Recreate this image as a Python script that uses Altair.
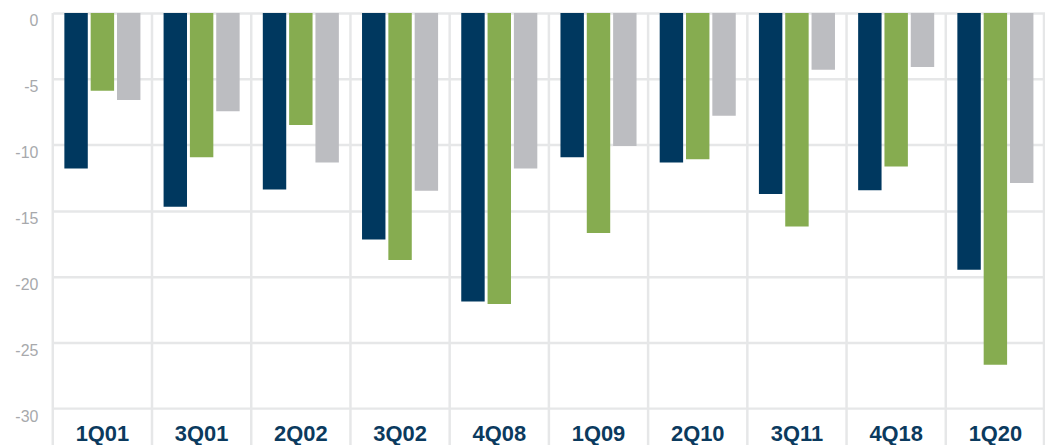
import altair as alt
import pandas as pd

quarters = ["1Q01", "3Q01", "2Q02", "3Q02", "4Q08", "1Q09", "2Q10", "3Q11", "4Q18", "1Q20"]
series_names = ["Series 1", "Series 2", "Series 3"]
series_1 = [-11.8, -14.7, -13.4, -17.2, -21.9, -10.95, -11.35, -13.75, -13.45, -19.5]
series_2 = [-5.9, -10.95, -8.5, -18.75, -22.1, -16.7, -11.1, -16.2, -11.65, -26.7]
series_3 = [-6.6, -7.45, -11.35, -13.5, -11.8, -10.1, -7.8, -4.3, -4.1, -12.9]
colors = ["#00385F", "#86AC50", "#BCBDC1"]
y_ticks = [0, -5, -10, -15, -20, -25, -30]

rows = []
for name, vals in zip(series_names, [series_1, series_2, series_3]):
    for q, v in zip(quarters, vals):
        rows.append({"quarter": q, "series": name, "value": v})
df = pd.DataFrame(rows)

W = 997
H = 397
GRID = "#E6E7E8"

x_scale = alt.Scale(domain=quarters, paddingInner=0, paddingOuter=0)
x_axis = alt.Axis(
    title=None,
    labelAngle=0,
    labelFont="Liberation Sans, Arial, sans-serif",
    labelFontSize=22,
    labelFontWeight="bold",
    labelColor="#0B3A5E",
    labelPadding=16,
    labelOverlap=False,
    labelBound=False,
    ticks=False,
    domain=False,
    grid=False,
)

bars = alt.Chart(df).mark_bar().encode(
    x=alt.X("quarter:N", scale=x_scale, sort=quarters, axis=x_axis),
    xOffset=alt.XOffset(
        "series:N",
        sort=series_names,
        scale=alt.Scale(domain=series_names, paddingInner=0.11, paddingOuter=0.44),
    ),
    y=alt.Y(
        "value:Q",
        scale=alt.Scale(domain=[-30, 0], nice=False, zero=True),
        axis=alt.Axis(
            title=None,
            values=y_ticks,
            grid=True,
            gridColor=GRID,
            gridWidth=2.5,
            ticks=False,
            domain=False,
            labelFont="Liberation Sans, Arial, sans-serif",
            labelFontSize=16,
            labelColor="#A7A9AC",
            labelPadding=15,
            labelBaseline="top",
            labelExpr="'' + datum.value",
        ),
    ),
    color=alt.Color(
        "series:N",
        scale=alt.Scale(domain=series_names, range=colors),
        legend=None,
    ),
)

vgrid = alt.Chart(pd.DataFrame({"quarter": quarters})).mark_rule(
    color=GRID, strokeWidth=2.5
).encode(
    x=alt.X("quarter:N", scale=x_scale, sort=quarters, bandPosition=0, axis=x_axis),
    y=alt.value(0),
    y2=alt.value(H + 60),
)

right_rule = alt.Chart(pd.DataFrame({"quarter": [quarters[-1]]})).mark_rule(
    color=GRID, strokeWidth=2.5
).encode(
    x=alt.value(W - 1),
    y=alt.value(0),
    y2=alt.value(H + 60),
)

chart = alt.layer(bars, vgrid, right_rule).properties(
    width=W,
    height=H,
    autosize=alt.AutoSizeParams(type="none"),
    padding={"left": 45, "top": 4, "right": 0, "bottom": 36},
).configure_view(stroke=None)

chart.save("out.html", embed_options={"renderer": "svg", "actions": False})
